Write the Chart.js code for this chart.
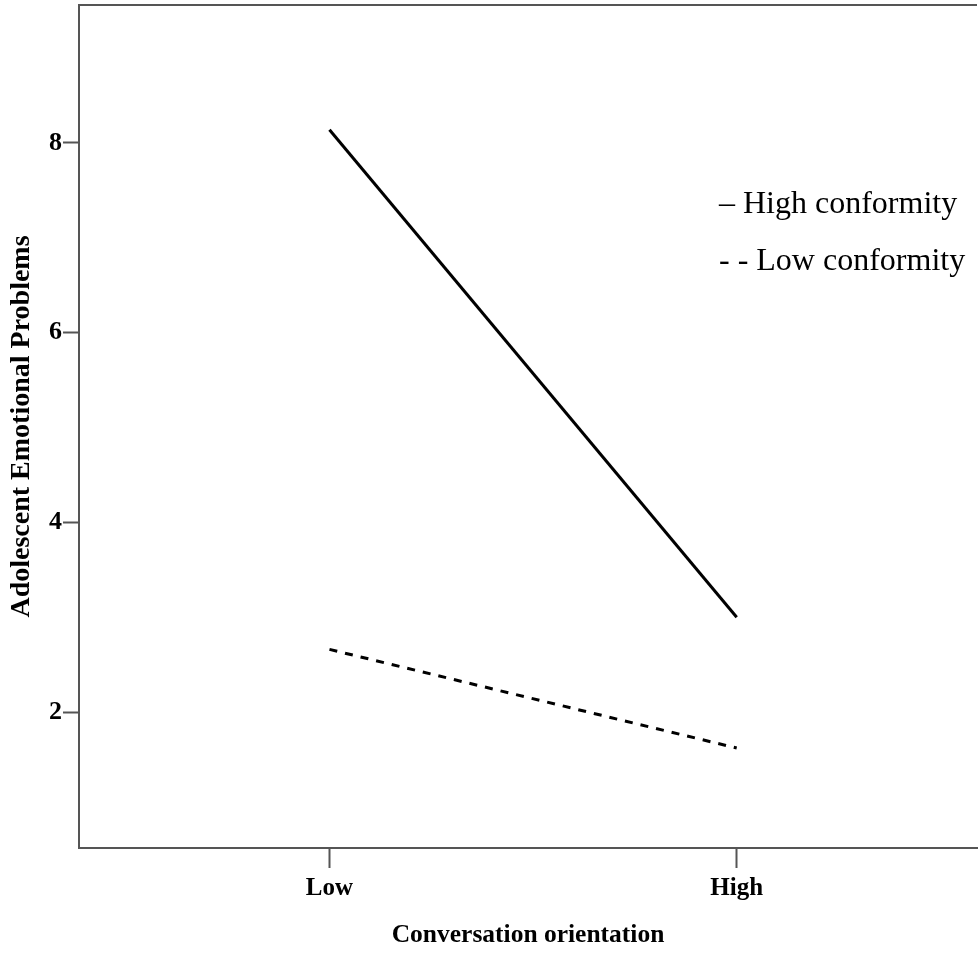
<!DOCTYPE html>
<html>
<head>
<meta charset="utf-8">
<script src="https://cdn.jsdelivr.net/npm/chart.js@4/dist/chart.umd.min.js"></script>
<style>
  html, body { margin: 0; padding: 0; background: #fff; }
  #wrap { width: 978px; height: 955px; }
</style>
</head>
<body>
<div id="wrap"><canvas id="c" width="978" height="955"></canvas></div>
<script>
const categories = ['Low', 'High'];
const categoryPositions = [1, 2];
const highConformity = [8.14, 3.00];
const lowConformity = [2.66, 1.62];
const yTickValues = [2, 4, 6, 8];
const legendLabels = ['\u2013 High conformity', '- - Low conformity'];
const xTitle = 'Conversation orientation';
const yTitle = 'Adolescent Emotional Problems';

const toPoints = (vals) => vals.map((v, i) => ({ x: categoryPositions[i], y: v }));
const AXIS = '#555555';
const SERIF = '"Liberation Serif", "Times New Roman", serif';

const frameAndLegend = {
  id: 'frameAndLegend',
  afterDraw(chart) {
    const { ctx, chartArea } = chart;
    ctx.save();
    ctx.strokeStyle = AXIS;
    ctx.lineWidth = 2;
    ctx.beginPath();
    ctx.moveTo(chartArea.left, chartArea.top);
    ctx.lineTo(chartArea.right, chartArea.top);
    ctx.stroke();
    ctx.fillStyle = '#000';
    ctx.font = '32px ' + SERIF;
    ctx.textBaseline = 'alphabetic';
    ctx.textAlign = 'left';
    ctx.fillText(legendLabels[0], 719, 213);
    ctx.fillText(legendLabels[1], 719, 270);
    ctx.restore();
  }
};

function noEdgePadding(scale) {
  scale.paddingTop = 0;
  scale.paddingBottom = 0;
  scale.paddingLeft = 0;
  scale.paddingRight = 0;
}

new Chart(document.getElementById('c'), {
  type: 'scatter',
  data: {
    datasets: [
      {
        label: 'High conformity',
        data: toPoints(highConformity),
        showLine: true,
        borderColor: '#000',
        borderWidth: 3,
        pointRadius: 0,
        pointHoverRadius: 0,
        fill: false
      },
      {
        label: 'Low conformity',
        data: toPoints(lowConformity),
        showLine: true,
        borderColor: '#000',
        borderWidth: 3,
        borderDash: [8, 8],
        pointRadius: 0,
        pointHoverRadius: 0,
        fill: false
      }
    ]
  },
  options: {
    responsive: false,
    animation: false,
    events: [],
    layout: { padding: { top: 5, right: 1, left: 0, bottom: 0 } },
    plugins: {
      legend: { display: false },
      tooltip: { enabled: false }
    },
    scales: {
      x: {
        type: 'linear',
        min: 0.385,
        max: 2.59,
        afterFit(scale) { scale.height = 107; noEdgePadding(scale); },
        afterBuildTicks(scale) { scale.ticks = categoryPositions.map(v => ({ value: v })); },
        ticks: {
          callback: (v) => { const i = categoryPositions.indexOf(v); return i >= 0 ? categories[i] : ''; },
          color: '#000',
          font: { family: SERIF, size: 25, weight: 'bold' },
          padding: 6,
          maxRotation: 0
        },
        grid: {
          display: true,
          drawOnChartArea: false,
          drawTicks: true,
          tickLength: 20,
          tickColor: AXIS,
          tickWidth: 2
        },
        border: { display: true, color: AXIS, width: 2 },
        title: {
          display: true,
          text: xTitle,
          color: '#000',
          font: { family: SERIF, size: 25.5, weight: 'bold' },
          padding: { top: 0, bottom: 4 }
        }
      },
      y: {
        type: 'linear',
        min: 0.566,
        max: 9.455,
        afterFit(scale) { scale.width = 79; noEdgePadding(scale); },
        afterBuildTicks(scale) { scale.ticks = yTickValues.map(v => ({ value: v })); },
        ticks: {
          color: '#000',
          font: { family: SERIF, size: 26, weight: 'bold' },
          padding: 1
        },
        grid: {
          display: true,
          drawOnChartArea: false,
          drawTicks: true,
          tickLength: 16,
          tickColor: AXIS,
          tickWidth: 2
        },
        border: { display: true, color: AXIS, width: 2 },
        title: {
          display: true,
          text: yTitle,
          color: '#000',
          font: { family: SERIF, size: 28, weight: 'bold' },
          padding: { top: 5, bottom: 0 }
        }
      }
    }
  },
  plugins: [frameAndLegend]
});
</script>
</body>
</html>
